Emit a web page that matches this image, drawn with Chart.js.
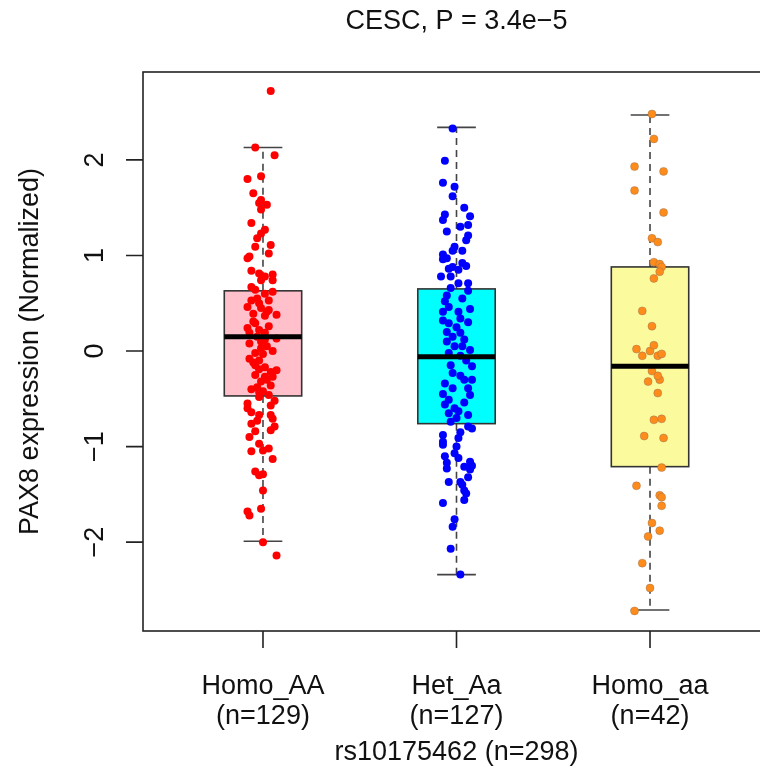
<!DOCTYPE html>
<html>
<head>
<meta charset="utf-8">
<script src="https://cdn.jsdelivr.net/npm/chart.js@4"></script>
<style>
  html, body { margin: 0; padding: 0; background: #fff; }
  #wrap { width: 760px; height: 771px; overflow: hidden; }
</style>
</head>
<body>
<div id="wrap"><canvas id="boxChart" width="780" height="771"></canvas></div>
<script>
// genotype groups
const categories = ["Homo_AA", "Het_Aa", "Homo_aa"];
const counts = [129, 127, 42];
const snpName = "rs10175462";
const plotTitle = "CESC, P = 3.4e\u22125";
const yTitle = "PAX8 expression (Normalized)";
const yTicks = [-2, -1, 0, 1, 2];

// box statistics per group
const q1 = [-0.47, -0.76, -1.21];
const med = [0.15, -0.06, -0.16];
const q3 = [0.63, 0.65, 0.88];
const whiskLo = [-1.99, -2.34, -2.71];
const whiskHi = [2.13, 2.34, 2.47];

// strip points: [jitter, value]
const homoAAPts = [
  [0.04,2.72],[-0.04,2.13],[0.06,2.05],[-0.08,1.80],[-0.01,1.83],[-0.05,1.65],[-0.01,1.58],[-0.02,1.55],
  [0.02,1.53],[-0.01,1.48],[-0.06,1.34],[0.01,1.27],[-0.01,1.23],[-0.03,1.18],[-0.04,1.09],[0.04,1.11],
  [0.03,1.02],[-0.08,0.97],[-0.07,0.99],[-0.06,0.84],[-0.02,0.81],[0.01,0.78],[0.05,0.80],[0.05,0.74],
  [-0.01,0.74],[-0.06,0.67],[-0.04,0.64],[0.01,0.60],[0.05,0.62],[0.03,0.53],[-0.06,0.53],[-0.02,0.50],
  [-0.08,0.46],[-0.01,0.45],[0.03,0.43],[-0.05,0.39],[0.07,0.38],[0.01,0.37],[-0.04,0.29],[-0.08,0.24],
  [-0.02,0.22],[-0.07,0.19],[0.01,0.19],[-0.03,0.15],[0.01,0.12],[0.07,0.13],[-0.07,0.08],[-0.01,0.03],
  [0.02,0.05],[-0.04,-0.02],[0.00,-0.03],[-0.07,-0.08],[-0.02,-0.10],[-0.04,-0.15],[0.01,-0.17],[-0.02,-0.19],
  [0.07,-0.20],[0.04,-0.22],[-0.04,-0.25],[0.01,-0.27],[0.05,-0.27],[-0.01,-0.32],[0.04,-0.36],[-0.06,-0.40],
  [-0.02,-0.43],[0.00,-0.42],[0.03,-0.46],[-0.02,-0.48],[-0.08,-0.55],[0.04,-0.57],[-0.08,-0.60],[-0.06,-0.64],
  [-0.02,-0.67],[0.04,-0.67],[0.05,-0.71],[-0.06,-0.76],[-0.03,-0.73],[0.06,-0.79],[0.04,-0.83],[-0.04,-0.84],
  [-0.07,-0.90],[-0.02,-0.97],[0.03,-1.02],[0.00,-1.04],[-0.06,-1.05],[0.05,-1.13],[-0.04,-1.26],[-0.02,-1.30],
  [0.00,-1.29],[0.00,-1.46],[-0.01,-1.65],[-0.08,-1.68],[-0.07,-1.72],[0.00,-2.00],[0.07,-2.14],
  [-0.03,0.55],[0.02,0.41],[-0.05,0.31],[0.03,0.26],[-0.01,0.10],[0.05,0.00],[-0.05,-0.12],[0.02,-0.30],
  [-0.03,-0.38],[0.06,-0.52]
];
const hetAaPts = [
  [-0.02,2.33],[-0.06,1.99],[-0.07,1.76],[-0.01,1.72],[-0.02,1.62],[0.04,1.50],[-0.06,1.43],[0.07,1.41],
  [-0.07,1.37],[0.02,1.30],[0.06,1.32],[-0.05,1.25],[0.06,1.21],[0.05,1.16],[-0.01,1.09],[-0.02,1.05],
  [0.03,1.05],[-0.07,1.01],[-0.05,0.97],[-0.07,0.96],[0.03,0.92],[0.05,0.89],[-0.04,0.86],[0.01,0.85],
  [-0.08,0.78],[-0.03,0.78],[0.01,0.71],[0.06,0.71],[-0.03,0.66],[0.06,0.63],[-0.05,0.58],[0.03,0.55],
  [-0.04,0.46],[-0.07,0.41],[0.01,0.41],[0.07,0.44],[-0.07,0.32],[0.02,0.34],[0.06,0.30],[-0.04,0.29],
  [0.02,0.19],[-0.02,0.15],[-0.05,0.10],[0.04,0.12],[-0.01,0.05],[0.07,0.01],[-0.04,-0.02],[0.02,-0.05],
  [-0.03,-0.15],[0.08,-0.16],[-0.02,-0.23],[0.02,-0.26],[0.08,-0.30],[-0.06,-0.34],[-0.02,-0.39],[0.06,-0.39],
  [-0.07,-0.45],[0.07,-0.46],[-0.04,-0.51],[0.04,-0.54],[-0.06,-0.56],[-0.01,-0.60],[0.01,-0.63],[0.06,-0.67],
  [0.00,-0.70],[-0.03,-0.74],[0.06,-0.79],[0.08,-0.81],[0.02,-0.85],[-0.07,-0.88],[0.01,-0.91],[-0.07,-0.95],
  [-0.07,-0.98],[0.00,-1.00],[-0.01,-1.07],[-0.06,-1.10],[0.01,-1.12],[0.07,-1.16],[-0.05,-1.17],[0.04,-1.21],
  [0.08,-1.20],[-0.05,-1.23],[0.07,-1.24],[0.06,-1.32],[0.02,-1.37],[-0.04,-1.37],[0.03,-1.40],[0.04,-1.46],
  [0.05,-1.49],[0.04,-1.56],[-0.07,-1.59],[-0.01,-1.76],[-0.02,-1.84],[-0.03,-2.07],[0.02,-2.34],
  [0.00,0.25],[-0.06,0.52],[0.05,-0.10],[-0.04,-0.65],[0.03,0.05],[-0.02,0.88],[0.04,-0.30],[-0.05,0.20]
];
const homoaaPts = [
  [0.01,2.48],[0.02,2.22],[-0.08,1.93],[0.07,1.88],[-0.08,1.68],[0.07,1.45],[0.01,1.18],[0.04,1.14],
  [0.02,0.93],[0.05,0.91],[0.06,0.88],[0.05,0.83],[0.02,0.76],[-0.04,0.42],[0.01,0.26],[-0.07,0.02],
  [0.00,0.00],[0.02,0.06],[-0.04,-0.05],[0.04,-0.05],[0.06,-0.03],[0.01,-0.21],[0.05,-0.30],[-0.01,-0.32],
  [0.04,-0.26],[0.04,-0.44],[0.02,-0.72],[0.06,-0.71],[-0.03,-0.89],[0.07,-0.91],[0.06,-1.22],[-0.07,-1.41],
  [0.05,-1.51],[0.06,-1.53],[0.06,-1.62],[0.01,-1.80],[0.05,-1.88],[-0.01,-1.94],[-0.04,-2.22],[0.00,-2.48],
  [-0.08,-2.72]
];

const boxFill = ["#ffc0cb", "#00ffff", "#fbfb9e"];
const pointColor = ["#ff0000", "#0000ff", "#ff8c1a"];
const boxHalf = 0.2;
const capHalf = 0.1;
const FONT = '"Liberation Sans", Arial, Helvetica, sans-serif';

function toPoints(pts, cat) {
  return pts.map((p) => ({ x: cat + p[0], y: p[1] }));
}

// boxes under the points, medians + axes on top
const boxPlugin = {
  id: "boxPlugin",
  beforeDatasetsDraw(chart) {
    const ctx = chart.ctx;
    const xs = chart.scales.x, ys = chart.scales.y;
    ctx.save();
    for (let i = 0; i < categories.length; i++) {
      const c = i + 1;
      const xl = xs.getPixelForValue(c - boxHalf), xr = xs.getPixelForValue(c + boxHalf);
      const xc = xs.getPixelForValue(c);
      const yq1 = ys.getPixelForValue(q1[i]), yq3 = ys.getPixelForValue(q3[i]);
      // whiskers
      ctx.strokeStyle = "#444";
      ctx.lineWidth = 1.6;
      ctx.setLineDash([7, 5]);
      ctx.beginPath();
      ctx.moveTo(xc, yq3); ctx.lineTo(xc, ys.getPixelForValue(whiskHi[i]));
      ctx.moveTo(xc, yq1); ctx.lineTo(xc, ys.getPixelForValue(whiskLo[i]));
      ctx.stroke();
      ctx.setLineDash([]);
      // caps
      const cl = xs.getPixelForValue(c - capHalf), cr = xs.getPixelForValue(c + capHalf);
      ctx.beginPath();
      [whiskHi[i], whiskLo[i]].forEach((v) => {
        const y = ys.getPixelForValue(v);
        ctx.moveTo(cl, y); ctx.lineTo(cr, y);
      });
      ctx.stroke();
      // box
      ctx.fillStyle = boxFill[i];
      ctx.fillRect(xl, yq3, xr - xl, yq1 - yq3);
      ctx.strokeStyle = "#333";
      ctx.lineWidth = 1.6;
      ctx.strokeRect(xl, yq3, xr - xl, yq1 - yq3);
    }
    ctx.restore();
  },
  afterDatasetsDraw(chart) {
    const ctx = chart.ctx;
    const xs = chart.scales.x, ys = chart.scales.y;
    const area = chart.chartArea;
    ctx.save();
    // medians
    ctx.strokeStyle = "#000";
    ctx.lineWidth = 5;
    for (let i = 0; i < categories.length; i++) {
      const c = i + 1;
      const y = ys.getPixelForValue(med[i]);
      ctx.beginPath();
      ctx.moveTo(xs.getPixelForValue(c - boxHalf), y);
      ctx.lineTo(xs.getPixelForValue(c + boxHalf), y);
      ctx.stroke();
    }
    // frame
    ctx.strokeStyle = "#222";
    ctx.lineWidth = 1.6;
    ctx.strokeRect(area.left, area.top, area.right - area.left, area.bottom - area.top);
    // ticks
    ctx.beginPath();
    categories.forEach((_, i) => {
      const x = xs.getPixelForValue(i + 1);
      ctx.moveTo(x, area.bottom); ctx.lineTo(x, area.bottom + 17);
    });
    yTicks.forEach((t) => {
      const y = ys.getPixelForValue(t);
      ctx.moveTo(area.left, y); ctx.lineTo(area.left - 17, y);
    });
    ctx.stroke();
    // text
    ctx.fillStyle = "#111";
    ctx.font = "27px " + FONT;
    ctx.textAlign = "center";
    ctx.textBaseline = "middle";
    categories.forEach((name, i) => {
      const x = xs.getPixelForValue(i + 1);
      ctx.fillText(name, x, area.bottom + 56);
      ctx.fillText("(n=" + counts[i] + ")", x, area.bottom + 86);
    });
    const total = counts.reduce((a, b) => a + b, 0);
    ctx.fillText(snpName + " (n=" + total + ")", (area.left + area.right) / 2, area.bottom + 122);
    ctx.fillText(plotTitle, (area.left + area.right) / 2, 22);
    // y tick labels, rotated like R's default
    ctx.textBaseline = "alphabetic";
    yTicks.forEach((t) => {
      const y = ys.getPixelForValue(t);
      ctx.save();
      ctx.translate(area.left - 40, y);
      ctx.rotate(-Math.PI / 2);
      ctx.fillText(t < 0 ? "\u2212" + Math.abs(t) : String(t), 0, 0);
      ctx.restore();
    });
    ctx.save();
    ctx.translate(38, (area.top + area.bottom) / 2);
    ctx.rotate(-Math.PI / 2);
    ctx.fillText(yTitle, 0, 0);
    ctx.restore();
    ctx.restore();
  }
};

const ctx = document.getElementById("boxChart").getContext("2d");
new Chart(ctx, {
  type: "scatter",
  data: {
    datasets: [homoAAPts, hetAaPts, homoaaPts].map((pts, i) => ({
      label: categories[i],
      data: toPoints(pts, i + 1),
      backgroundColor: pointColor[i],
      borderColor: i === 2 ? "rgba(140,110,90,0.7)" : pointColor[i],
      borderWidth: i === 2 ? 0.6 : 0,
      pointRadius: 4,
      pointHoverRadius: 4,
    })),
  },
  options: {
    responsive: false,
    animation: false,
    events: [],
    layout: { padding: { left: 143, right: 10, top: 72, bottom: 140 } },
    plugins: { legend: { display: false }, tooltip: { enabled: false } },
    scales: {
      x: { type: "linear", min: 0.38, max: 3.62, display: false },
      y: { type: "linear", min: -2.93, max: 2.92, display: false },
    },
  },
  plugins: [boxPlugin],
});
</script>
</body>
</html>
